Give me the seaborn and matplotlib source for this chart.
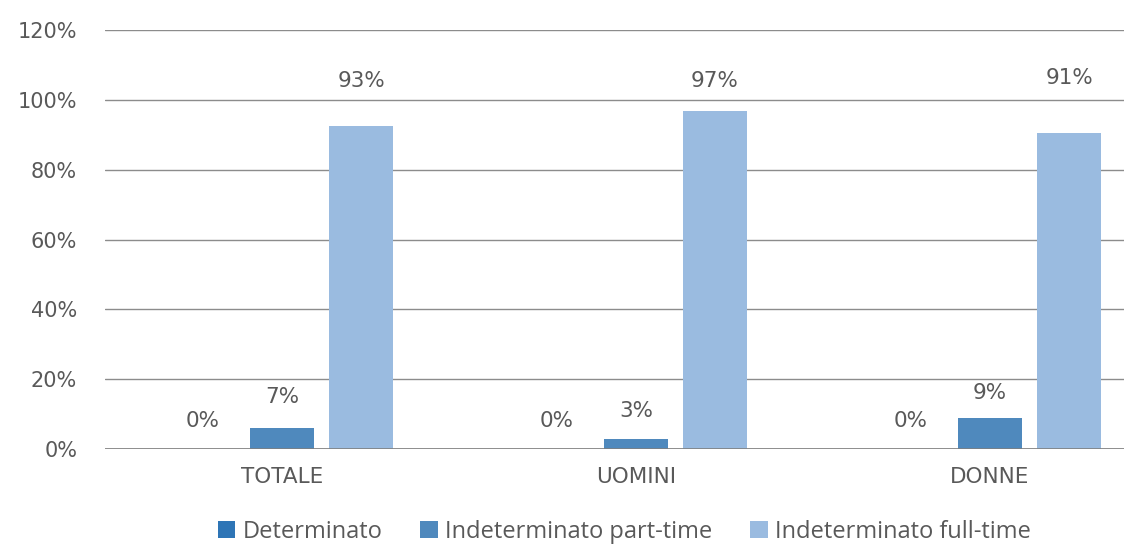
import numpy as np
import pandas as pd
import matplotlib
matplotlib.use("Agg")
import matplotlib.pyplot as plt
import seaborn as sns

# Data
categories = ["TOTALE", "UOMINI", "DONNE"]
series = ["Determinato", "Indeterminato part-time", "Indeterminato full-time"]
determinato = [0.0, 0.0, 0.0]
part_time = [0.061, 0.029, 0.089]
full_time = [0.926, 0.969, 0.906]
label_texts = {
    "Determinato": ["0%", "0%", "0%"],
    "Indeterminato part-time": ["7%", "3%", "9%"],
    "Indeterminato full-time": ["93%", "97%", "91%"],
}
colors = ["#2e75b6", "#4f89bd", "#9abbe0"]

# distance (px) from bar top to label centre, as placed in the original
label_offsets = {
    "Determinato": [28, 28, 28],
    "Indeterminato part-time": [31, 28, 25],
    "Indeterminato full-time": [45, 30, 55],
}

rows = []
for name, vals in zip(series, [determinato, part_time, full_time]):
    for cat, v in zip(categories, vals):
        rows.append({"cat": cat, "serie": name, "val": v})
df = pd.DataFrame(rows)

sns.set_style("white")
plt.rcParams["font.family"] = ["DejaVu Sans"]

fig = plt.figure(figsize=(11.24, 5.45), dpi=100)
# axes right edge runs past the figure (cropped like the original)
ax = fig.add_axes([105 / 1124, 96 / 545, 1062 / 1124, 419 / 545])

sns.barplot(data=df, x="cat", y="val", hue="serie", hue_order=series,
            palette=colors, width=0.67, gap=0.19, saturation=1,
            errorbar=None, ax=ax, legend=True, linewidth=0)

ax.set_ylim(0, 1.2)
ticks = np.arange(0, 1.21, 0.2)
ax.set_yticks(ticks)
ax.set_yticklabels([f"{int(round(t * 100))}%" for t in ticks])
ax.yaxis.grid(True, color="#8c8c8c", linewidth=1)
ax.set_axisbelow(True)
for s in ax.spines.values():
    s.set_visible(False)
ax.axhline(0, color="#7f7f7f", linewidth=1.2)
ax.tick_params(axis="both", length=0, colors="#595959")
ax.tick_params(axis="y", pad=20, labelsize=15)
ax.tick_params(axis="x", pad=13, labelsize=15.5)
ax.set_xlabel("")
ax.set_ylabel("")

for cont, name in zip(ax.containers, series):
    for bar, txt, off in zip(cont, label_texts[name], label_offsets[name]):
        ax.annotate(txt, (bar.get_x() + bar.get_width() / 2, bar.get_height()),
                    xytext=(0, off * 0.72), textcoords="offset points",
                    ha="center", va="center", fontsize=15.5, color="#595959")

handles, labels = ax.get_legend_handles_labels()
ax.legend(handles, labels, loc="center", bbox_to_anchor=((624 - 105) / 1062, -0.198),
          ncol=3, frameon=False, handlelength=0.75, handleheight=0.75,
          handletextpad=0.3, columnspacing=1.6, labelcolor="#595959",
          prop={"family": "Open Sans", "size": 17})

fig.savefig("out.png", dpi=100)
